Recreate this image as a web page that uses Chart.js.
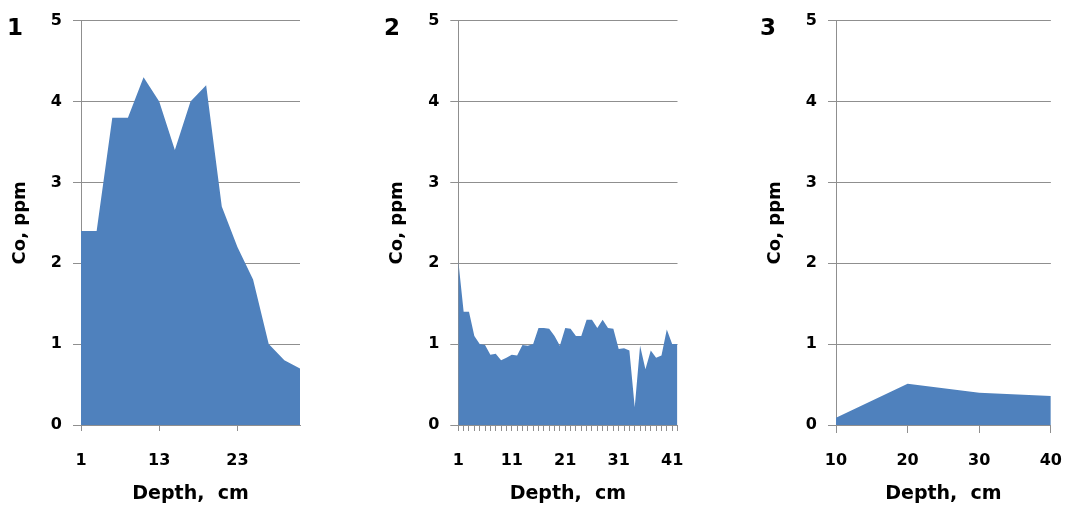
<!DOCTYPE html>
<html><head><meta charset="utf-8">
<script src="https://cdn.jsdelivr.net/npm/chart.js@4.4.1/dist/chart.umd.min.js"></script>
<style>
html,body{margin:0;padding:0;background:#fff}
body{width:1080px;height:516px;position:relative;overflow:hidden;font-family:"DejaVu Sans",sans-serif}
.wrap{position:absolute;top:0;height:516px}
.num{position:absolute;top:15px;width:24px;text-align:center;font:bold 23px/24px "DejaVu Sans",sans-serif;color:#000}
</style></head><body>
<div class="wrap" style="left:0;width:360px"><canvas id="c1"></canvas></div>
<div class="wrap" style="left:360px;width:360px"><canvas id="c2"></canvas></div>
<div class="wrap" style="left:720px;width:360px"><canvas id="c3"></canvas></div>
<div class="num" style="left:3px">1</div>
<div class="num" style="left:380px">2</div>
<div class="num" style="left:756px">3</div>
<script>
// Panel 1
const depth1 = ["1","3","6","8","11","13","15","17","19","21","23","25","27","29","31"];
const co1 = [2.4,2.4,3.8,3.8,4.3,4.0,3.4,4.0,4.2,2.7,2.2,1.8,1.0,0.8,0.7];
// Panel 2
const depth2 = ["1","2","3","4","5","6","7","8","9","10","11","12","13","14","15","16","17","18","19","20","21","22","23","24","25","26","27","28","29","30","31","32","33","34","35","36","37","38","39","40","41","42"];
const co2 = [2.03,1.4,1.4,1.1,1.0,0.99,0.87,0.88,0.8,0.83,0.87,0.86,0.99,0.98,1.0,1.2,1.2,1.19,1.1,0.98,1.2,1.19,1.1,1.1,1.3,1.3,1.2,1.3,1.2,1.19,0.94,0.95,0.92,0.22,0.98,0.69,0.92,0.83,0.86,1.18,1.0,1.0];
// Panel 3
const depth3 = ["10","20","30","40"];
const co3 = [0.09,0.51,0.40,0.36];
// Axis
const yTicks = [0,1,2,3,4,5];
const yTitle = "Co, ppm";
const xTitle = "Depth,  cm";

const FILL = '#4F81BD';
const GRID = '#8f8f8f';
const FONT = '"DejaVu Sans", sans-serif';

function makeChart(id, labels, values, o){
  return new Chart(document.getElementById(id), {
    type: 'line',
    data: { labels: labels, datasets: [{ data: values, fill: 'origin', backgroundColor: FILL, borderColor: FILL, borderWidth: 0, pointRadius: 0, tension: 0 }] },
    options: {
      responsive: true, maintainAspectRatio: false, animation: false,
      layout: { padding: { top: 16, right: o.padRight, left: 0, bottom: 0 } },
      plugins: { legend: { display: false }, tooltip: { enabled: false } },
      scales: {
        x: {
          type: 'category', offset: false,
          grid: { drawOnChartArea: false, drawTicks: true, tickLength: o.xTickLen,
                  tickColor: (c) => (c.index % o.tickEvery === 0 ? GRID : 'rgba(0,0,0,0)') },
          border: { color: GRID, width: 1 },
          ticks: { autoSkip: false, maxRotation: 0, minRotation: 0, padding: 26 - o.xTickLen, color: '#000',
                   font: { family: FONT, size: 16, weight: 'bold' },
                   callback: (v, i) => (i % o.labelEvery === 0 ? labels[i] : '') },
          title: { display: true, text: xTitle, color: '#000', font: { family: FONT, size: 19, weight: 'bold' }, padding: { top: 0, bottom: 11 } },
          afterFit: (s) => { s.height = 91; }
        },
        y: {
          min: 0, max: 5,
          afterBuildTicks: (s) => { s.ticks = yTicks.map(v => ({ value: v })); },
          grid: { color: GRID, lineWidth: 1, drawTicks: true, tickLength: 8, tickColor: GRID },
          border: { color: GRID, width: 1 },
          ticks: { padding: 11, color: '#000', font: { family: FONT, size: 16, weight: 'bold' } },
          title: { display: true, text: yTitle, color: '#000', font: { family: FONT, size: 18, weight: 'bold' }, padding: { top: o.yTitlePad, bottom: 0 } },
          afterFit: (s) => { s.width = o.yWidth; }
        }
      }
    }
  });
}

makeChart('c1', depth1, co1, { yWidth: 81, padRight: 60, yTitlePad: 10, labelEvery: 5, tickEvery: 5, xTickLen: 6 });
makeChart('c2', depth2, co2, { yWidth: 98.3, padRight: 42.5, yTitlePad: 27, labelEvery: 10, tickEvery: 1, xTickLen: 6 });
makeChart('c3', depth3, co3, { yWidth: 116, padRight: 25, yTitlePad: 45, labelEvery: 1, tickEvery: 1, xTickLen: 8 });
</script>
</body></html>
